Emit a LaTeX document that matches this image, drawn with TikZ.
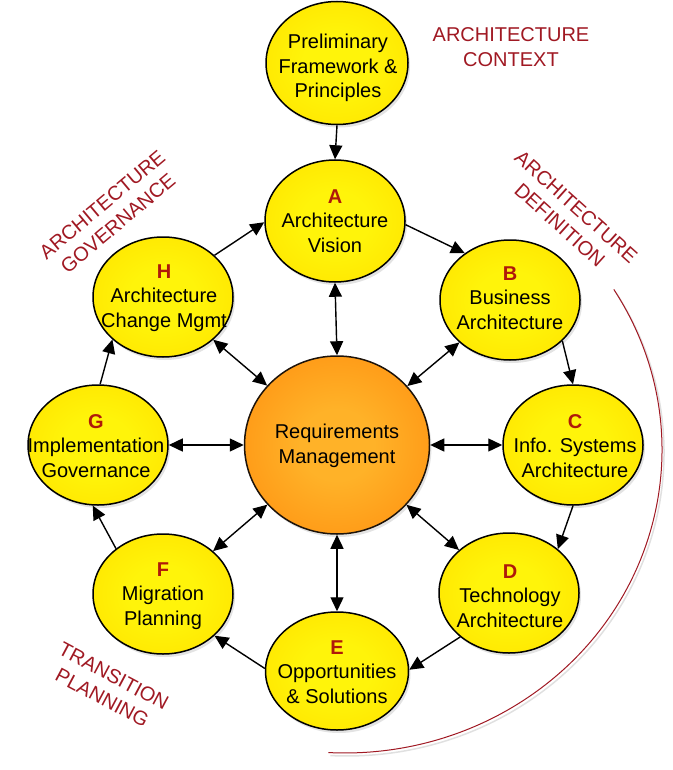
\documentclass[tikz,border=0pt]{standalone}
\usepackage{fontspec}
\setmainfont{Liberation Sans}
\usetikzlibrary{arrows.meta,shapes.geometric,shadows}
\definecolor{yin}{RGB}{255,244,10}
\definecolor{ymid}{RGB}{255,230,0}
\definecolor{yout}{RGB}{244,200,0}
\definecolor{oin}{RGB}{255,178,40}
\definecolor{omid}{RGB}{255,150,20}
\definecolor{oout}{RGB}{242,125,0}
\definecolor{lred}{RGB}{160,25,35}
\definecolor{phred}{RGB}{175,25,10}
\pgfdeclareradialshading{yellowball}{\pgfpoint{0bp}{0bp}}{color(0bp)=(yin); color(12bp)=(yin); color(30bp)=(ymid); color(50bp)=(yout)}
\pgfdeclareradialshading{orangeball}{\pgfpoint{0bp}{0bp}}{color(0bp)=(oin); color(10bp)=(oin); color(30bp)=(omid); color(50bp)=(oout)}
\newcommand\phl[1]{{\color{phred}\bfseries #1}}
\begin{document}
\begin{tikzpicture}[x=1pt,y=-1pt,
  phase/.style={ellipse, draw=black, line width=1.5pt, shading=yellowball,
    minimum width=140pt, minimum height=120pt, inner sep=0pt,
    drop shadow={opacity=0.22, shadow xshift=2pt, shadow yshift=-3pt}},
  reqs/.style={ellipse, draw=black!85!brown, line width=1.5pt, shading=orangeball,
    minimum width=185pt, minimum height=178pt, inner sep=0pt,
    drop shadow={opacity=0.22, shadow xshift=2pt, shadow yshift=-3pt}},
  ptext/.style={align=center, inner sep=0pt, font=\fontsize{20}{24.5}\selectfont},
  lab/.style={align=center, inner sep=0pt, text=lred, font=\fontsize{20}{24.5}\selectfont},
  conn/.style={line width=1.4pt, -{Triangle[length=14pt,width=13pt]}},
  dconn/.style={line width=1.4pt, {Triangle[length=14pt,width=13pt]}-{Triangle[length=14pt,width=13pt]}}
]
\path[use as bounding box] (0,0) rectangle (672,770);

% red arc
\draw[black, opacity=0.12, line width=1.5pt] (615.8,292.4) arc[start angle=-32, end angle=93, x radius=317, y radius=303];
\draw[lred, line width=1pt] (613.8,289.4) arc[start angle=-32, end angle=93, x radius=317, y radius=303];

% nodes
\node[phase, minimum width=142pt, minimum height=123pt] (P) at (337,63) {};
\node[phase, minimum height=122pt] (A) at (335,221) {};
\node[phase] (B) at (510,300) {};
\node[phase] (C) at (573,445) {};
\node[phase] (D) at (509,593) {};
\node[phase, minimum width=143pt, minimum height=118pt] (E) at (337,671) {};
\node[phase] (F) at (163,594) {};
\node[phase] (G) at (98,445) {};
\node[phase] (H) at (163,297) {};
\node[reqs] (M) at (337,445) {};

% texts
\node[ptext] (Pt) at (338,68) {Preliminary\\Framework \&\\Principles};
\node[ptext] (At) at (335,221) {\phl{A}\\Architecture\\Vision};
\node[ptext] (Bt) at (510,298) {\phl{B}\\Business\\Architecture};
\node[ptext] (Ct) at (575,446) {\phl{C}\\Info. Systems\\Architecture};
\node[ptext] (Dt) at (510,596) {\phl{D}\\Technology\\Architecture};
\node[ptext] (Et) at (337,672) {\phl{E}\\Opportunities\\\& Solutions};
\node[ptext] (Ft) at (163,596) {\phl{F}\\Migration\\Planning};
\node[ptext] (Gt) at (96,446) {\phl{G}\\Implementation\\Governance};
\node[ptext] (Ht) at (164,298) {\phl{H}\\Architecture\\Change Mgmt};
\node[ptext] (Mt) at (337,446) {Requirements\\Management};

% labels
\node[lab] (L1) at (511,47) {ARCHITECTURE\\CONTEXT};
\node[lab, rotate=40] (L2) at (110,214) {ARCHITECTURE\\GOVERNANCE};
\node[lab, rotate=-42] (L3) at (568,216) {ARCHITECTURE\\DEFINITION};
\node[lab, rotate=-28] (L4) at (108,687) {TRANSITION\\PLANNING};

% cycle arrows
\draw[conn] (P.-90) -- (A.90);
\draw[conn] (A.-3) -- (B.134);
\draw[conn] (B.-38) -- (C.90);
\draw[conn] (C.-90) -- (D.42);
\draw[conn] (D.-138) -- (E.1);
\draw[conn] (E.178) -- (F.-39);
\draw[conn] (F.136) -- (G.-95);
\draw[conn] (G.88) -- (H.-140);
\draw[conn] (H.39) -- (A.-179);

% requirements arrows
\draw[dconn] (M.90) -- (A.-90);
\draw[dconn] (M) -- (B);
\draw[dconn] (M.0) -- (C.180);
\draw[dconn] (M) -- (D);
\draw[dconn] (M.-90) -- (E.90);
\draw[dconn] (M) -- (F);
\draw[dconn] (M.180) -- (G.0);
\draw[dconn] (M) -- (H);
\end{tikzpicture}
\end{document}
